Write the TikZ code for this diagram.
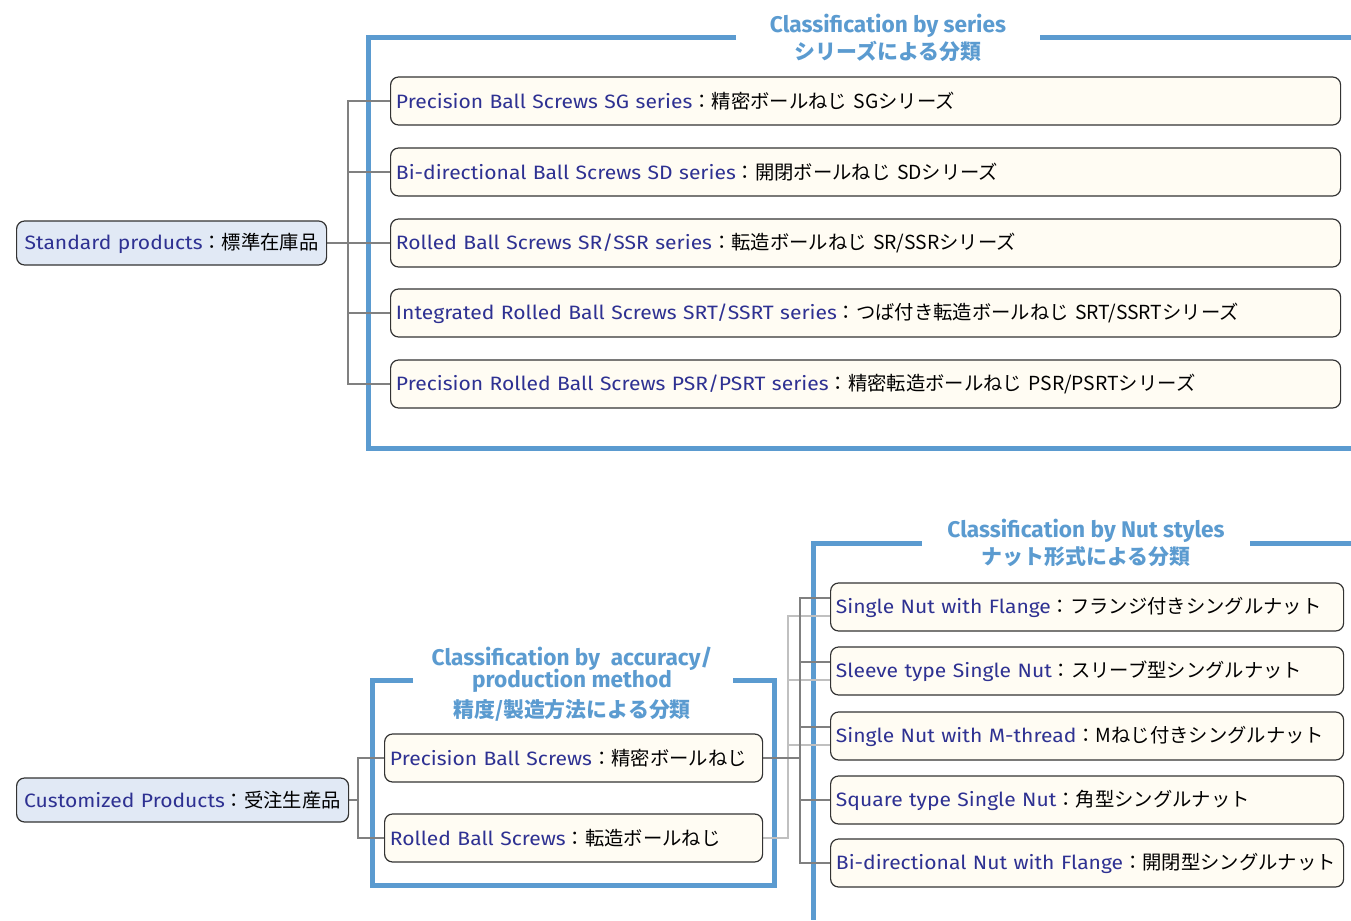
\documentclass[tikz,border=0pt]{standalone}
\usepackage{fontspec}
\setmainfont[FakeStretch=1.09]{Fira Sans}
\newfontfamily\jp{Noto Sans CJK JP}
\newfontfamily\headlat{Fira Sans}
\usetikzlibrary{calc,backgrounds}
\definecolor{frameblue}{RGB}{91,155,208}
\definecolor{entblue}{RGB}{46,49,146}
\definecolor{boxcream}{RGB}{255,252,243}
\definecolor{boxblue}{RGB}{225,233,245}
\definecolor{boxedge}{RGB}{51,51,51}
\definecolor{linkdark}{RGB}{128,128,128}
\definecolor{linklite}{RGB}{192,192,192}
% entry text: english part in blue, japanese part in black
\newcommand\entry[2]{\textcolor{entblue}{#1}{\jp ：#2}}
% heading lines
\newcommand\headen[1]{{\headlat\fontsize{17}{20}\selectfont #1}}
\newcommand\headjp[1]{{\jp\fontsize{15.7}{20}\selectfont #1}}
\tikzset{
  item/.style={draw=boxedge,line width=0.9pt,rounded corners=6pt,fill=boxcream,
    anchor=west,minimum height=36pt,inner xsep=4pt,align=left,text width=#1,
    font=\fontsize{14.5}{17}\selectfont},
  root/.style={item=#1,fill=boxblue,minimum height=33pt,inner xsep=0pt,align=center},
  frame/.style={draw=frameblue,line width=3.75pt},
  heading/.style={align=center,text=frameblue,inner sep=0pt,
    font=\fontsize{15}{20}\selectfont\bfseries},
  link/.style={draw=linkdark,line width=1.9pt},
  linklite/.style={draw=linklite,line width=1.9pt}
}
\begin{document}
\begin{tikzpicture}[x=0.75pt,y=-0.75pt]
\useasboundingbox (0,0) rectangle (1351,920);
% headings
\node[heading] (hser) at (888,38) {\headen{Classification by series}\\\headjp{シリーズによる分類}};
\node[heading] (hacc) at (572,684) {\headen{Classification by\ \ accuracy/}\\[-3.5pt]\headen{production method}\\[3pt]\headjp{精度/製造方法による分類}};
\node[heading] (hnut) at (1086,543) {\headen{Classification by Nut styles}\\\headjp{ナット形式による分類}};
% standard products
\node[root=232.5pt] (std) at (16,243) {\entry{Standard products}{標準在庫品}};
\node[item=704.5pt] (ser1) at (390,101) {\entry{Precision Ball Screws SG series}{精密ボールねじ SGシリーズ}};
\node[item=704.5pt] (ser2) at (390,172) {\entry{Bi-directional Ball Screws SD series}{開閉ボールねじ SDシリーズ}};
\node[item=704.5pt] (ser3) at (390,243) {\entry{Rolled Ball Screws SR/SSR series}{転造ボールねじ SR/SSRシリーズ}};
\node[item=704.5pt] (ser4) at (390,313) {\entry{Integrated Rolled Ball Screws SRT/SSRT series}{つば付き転造ボールねじ SRT/SSRTシリーズ}};
\node[item=704.5pt] (ser5) at (390,384) {\entry{Precision Rolled Ball Screws PSR/PSRT series}{精密転造ボールねじ PSR/PSRTシリーズ}};
% customized products
\node[root=249pt] (cust) at (16,800) {\entry{Customized Products}{受注生産品}};
\node[item=275.5pt] (prec) at (384,758) {\entry{Precision Ball Screws}{精密ボールねじ}};
\node[item=275.5pt] (rolled) at (384,838) {\entry{Rolled Ball Screws}{転造ボールねじ}};
\node[item=376.75pt] (nut1) at (830,607) {\entry{Single Nut with Flange}{フランジ付きシングルナット}};
\node[item=376.75pt] (nut2) at (830,671) {\entry{Sleeve type Single Nut}{スリーブ型シングルナット}};
\node[item=376.75pt] (nut3) at (830,736) {\entry{Single Nut with M-thread}{Mねじ付きシングルナット}};
\node[item=376.75pt] (nut4) at (830,800) {\entry{Square type Single Nut}{角型シングルナット}};
\node[item=376.75pt] (nut5) at (830,863) {\entry{Bi-directional Nut with Flange}{開閉型シングルナット}};
\begin{scope}[on background layer]
% blue frames
\draw[frame] (736,38) -- (368,38) -- (368,448) -- (1351,448);
\draw[frame] (1040,38) -- (1351,38);
\draw[frame] (413,680) -- (372,680) -- (372,885) -- (774,885) -- (774,680) -- (733,680);
\draw[frame] (922,543) -- (813,543) -- (813,920);
\draw[frame] (1250,543) -- (1351,543);
% connectors
\foreach \i in {1,...,5}
  \draw[link] (std.east) -- ++(21,0) |- (ser\i.west);
\draw[link] (cust.east) -- ++(9,0) |- (prec.west);
\draw[link] (cust.east) -- ++(9,0) |- (rolled.west);
\foreach \i in {1,2,3}
  \draw[linklite] (rolled.east) -- ++(25,0) |- ($(nut\i.west)+(0,9)$);
\foreach \i in {1,2,3}
  \draw[link] (prec.east) -- ++(37,0) |- ($(nut\i.west)+(0,-9)$);
\foreach \i in {4,5}
  \draw[link] (prec.east) -- ++(37,0) |- (nut\i.west);
\end{scope}
\end{tikzpicture}
\end{document}
